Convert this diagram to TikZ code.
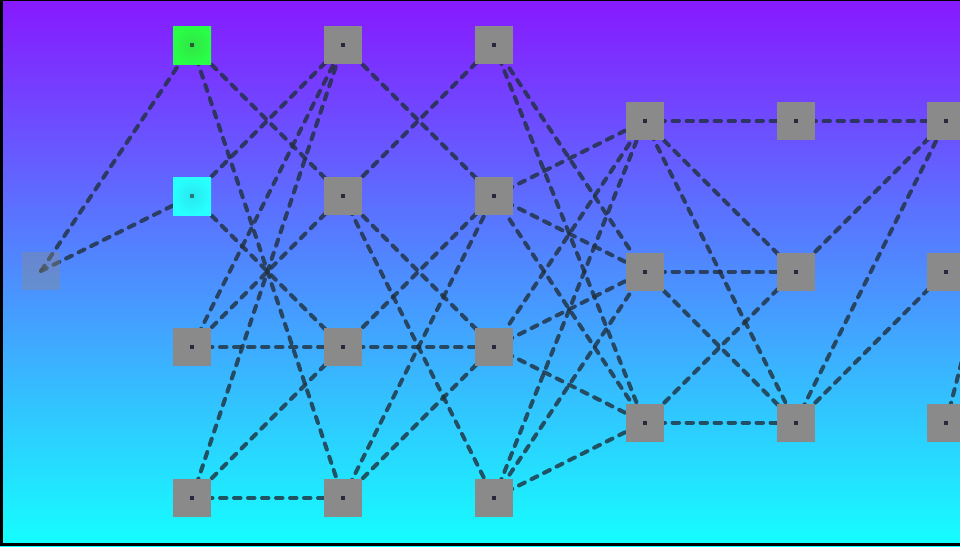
\documentclass[tikz,border=0pt]{standalone}
\definecolor{topc}{RGB}{135,25,255}
\definecolor{botc}{RGB}{20,255,255}
\definecolor{edgec}{RGB}{32,48,60}
\definecolor{nodegray}{RGB}{138,138,138}
\definecolor{dotc}{RGB}{40,40,60}
\definecolor{greenout}{RGB}{40,255,70}
\definecolor{greenin}{RGB}{50,228,70}
\definecolor{greendot}{RGB}{40,90,60}
\definecolor{cyanout}{RGB}{40,255,255}
\definecolor{cyanin}{RGB}{40,232,240}
\definecolor{cyandot}{RGB}{40,120,120}
\pgfdeclarelayer{bg}
\pgfdeclarelayer{links}
\pgfsetlayers{bg,links,main}
\tikzset{
  sq/.style={rectangle, minimum size=38pt, inner sep=0pt, fill=nodegray,
    path picture={\fill[#1] ([xshift=-2pt,yshift=-2pt]path picture bounding box.center) rectangle ([xshift=2pt,yshift=2pt]path picture bounding box.center);}},
  sq/.default=dotc,
  faded/.style={rectangle, minimum size=38pt, inner sep=0pt, fill=nodegray, fill opacity=0.4},
  link/.style={draw=edgec, draw opacity=0.8, line width=4pt, line cap=round, dash pattern=on 6.5pt off 7.5pt},
}
\begin{document}
\begin{tikzpicture}[x=1pt,y=-1pt]
\useasboundingbox (0,0) rectangle (960,546);
\begin{pgfonlayer}{bg}
\shade[top color=topc, bottom color=botc] (0,0) rectangle (960,546);
\end{pgfonlayer}
% nodes
\node[faded] (a0) at (41,271) {};
\node[sq=greendot, shading=radial, inner color=greenin, outer color=greenout] (b1) at (192,45) {};
\node[sq=cyandot, shading=radial, inner color=cyanin, outer color=cyanout] (b2) at (192,196) {};
\node[sq] (b3) at (192,347) {};
\node[sq] (b4) at (192,498) {};
\node[sq] (c1) at (343,45) {};
\node[sq] (c2) at (343,196) {};
\node[sq] (c3) at (343,347) {};
\node[sq] (c4) at (343,498) {};
\node[sq] (d1) at (494,45) {};
\node[sq] (d2) at (494,196) {};
\node[sq] (d3) at (494,347) {};
\node[sq] (d4) at (494,498) {};
\node[sq] (e1) at (644.5,121) {};
\node[sq] (e2) at (644.5,271.5) {};
\node[sq] (e3) at (644.5,422.5) {};
\node[sq] (f1) at (795.5,121) {};
\node[sq] (f2) at (795.5,271.5) {};
\node[sq] (f3) at (795.5,422.5) {};
\node[sq] (g1) at (946,121) {};
\node[sq] (g2) at (946,271.5) {};
\node[sq] (g3) at (946,422.5) {};
\coordinate (off) at (1011,170);
% links
\begin{pgfonlayer}{links}
\foreach \u/\v in {a0/b1,a0/b2,
  b1/c2,b1/c4,b2/c1,b2/c3,b3/c1,b3/c2,b3/c3,b4/c1,b4/c3,b4/c4,
  c1/d2,c2/d1,c2/d3,c2/d4,c3/d2,c3/d3,c4/d2,c4/d3,
  d1/e2,d1/e3,d2/e1,d2/e2,d2/e3,d3/e1,d3/e2,d3/e3,d4/e1,d4/e2,d4/e3,
  e1/f1,e1/f2,e1/f3,e2/f2,e2/f3,e3/f2,e3/f3,
  f1/g1,f2/g1,f3/g1,f3/g2,g3/off}
  \draw[link] (\u.center) -- (\v.center);
\end{pgfonlayer}
% frame
\fill[black] (0,0) rectangle (2.5,546);
\fill[black] (0,0) rectangle (960,1.2);
\fill[black] (0,543) rectangle (960,546);
\end{tikzpicture}
\end{document}
